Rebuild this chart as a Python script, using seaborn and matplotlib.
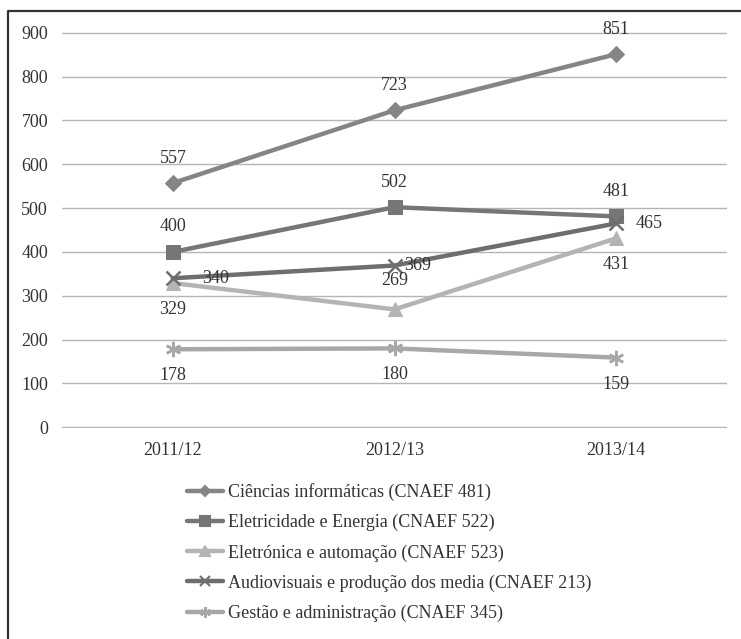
import matplotlib
matplotlib.use("Agg")
import matplotlib.pyplot as plt
from matplotlib.lines import Line2D
import pandas as pd
import seaborn as sns

# Academic years on the x axis
years = ["2011/12", "2012/13", "2013/14"]

# Enrolments per study area (CNAEF)
ciencias_informaticas = [557, 723, 851]
eletricidade_energia = [400, 502, 481]
eletronica_automacao = [329, 269, 431]
audiovisuais_media = [340, 369, 465]
gestao_administracao = [178, 180, 159]

series_names = [
    "Ciências informáticas (CNAEF 481)",
    "Eletricidade e Energia (CNAEF 522)",
    "Eletrónica e automação (CNAEF 523)",
    "Audiovisuais e produção dos media (CNAEF 213)",
    "Gestão e administração (CNAEF 345)",
]
series_values = [
    ciencias_informaticas,
    eletricidade_energia,
    eletronica_automacao,
    audiovisuais_media,
    gestao_administracao,
]

y_ticks = [0, 100, 200, 300, 400, 500, 600, 700, 800, 900]

# styling per series: colour, marker, marker size, label placement (dx, dy in points)
styles = [
    dict(color="#858585", marker="D", ms=8, filled=True,
         offsets=[(0, 18), (0, 18), (0, 18)]),
    dict(color="#767676", marker="s", ms=10, filled=True,
         offsets=[(0, 18), (0, 18), (0, 18)]),
    dict(color="#b4b4b4", marker="^", ms=10, filled=True,
         offsets=[(0, -19), (0, 21), (0, -19)]),
    dict(color="#6e6e6e", marker="x", ms=10, filled=False,
         offsets=[(31, 0), (17, 0), (24, 0)]),
    dict(color="#a8a8a8", marker=(6, 2, 0), ms=11, filled=False,
         offsets=[(0, -19), (0, -19), (0, -19)]),
]

FS = 13

sns.set_theme(style="white")
plt.rcParams["font.family"] = ["Liberation Serif", "DejaVu Serif"]
plt.rcParams["text.color"] = "#333333"

fig = plt.figure(figsize=(7.41, 6.39), dpi=100)
ax = fig.add_axes([62 / 741, 1 - 428 / 639, 665 / 741, 396 / 639])

df = pd.DataFrame(
    [(name, yr, v) for name, vals in zip(series_names, series_values)
     for yr, v in zip(years, vals)],
    columns=["area", "ano", "valor"],
)

handles = []
for name, st in zip(series_names, styles):
    sub = df[df["area"] == name]
    mkw = dict(marker=st["marker"], markersize=st["ms"])
    if st["filled"]:
        mkw.update(markerfacecolor=st["color"], markeredgecolor=st["color"])
    else:
        mkw.update(markeredgecolor=st["color"], markeredgewidth=1.8)
    sns.lineplot(data=sub, x="ano", y="valor", ax=ax, color=st["color"],
                 linewidth=3.2, sort=False, legend=False, **mkw)
    for i, (yr, v) in enumerate(zip(sub["ano"], sub["valor"])):
        dx, dy = st["offsets"][i]
        ax.annotate(str(v), xy=(i, v), xytext=(dx, dy), textcoords="offset points",
                    ha="center", va="center", fontsize=FS, color="#333333")
    handles.append(Line2D([], [], color=st["color"], linewidth=3.2,
                          marker=st["marker"], markersize=st["ms"] * 0.7,
                          markeredgewidth=1.5,
                          markerfacecolor=st["color"], markeredgecolor=st["color"]))

ax.set_xlim(-0.5, 2.5)
ax.set_ylim(-1.5, 901.5)
ax.set_yticks(y_ticks)
ax.set_yticklabels([str(t) for t in y_ticks])
ax.grid(axis="y", color="#b5b5b5", linewidth=1.0)
ax.grid(axis="x", visible=False)
ax.set_axisbelow(True)
for sp in ax.spines.values():
    sp.set_visible(False)
ax.tick_params(axis="y", length=0, pad=10, labelsize=FS, labelcolor="#333333")
ax.tick_params(axis="x", length=0, pad=10, labelsize=FS, labelcolor="#333333")
ax.set_xlabel("")
ax.set_ylabel("")

fig.legend(handles, series_names, loc="upper left",
           bbox_to_anchor=(187 / 741, 1 - 483 / 639), frameon=False,
           fontsize=FS, handlelength=2.0, handletextpad=0.25,
           labelspacing=0.72, borderpad=0, borderaxespad=0)

# outer frame open on the right and bottom
fig.add_artist(Line2D([8 / 741, 8 / 741, 1.0], [0.0, 1 - 11 / 639, 1 - 11 / 639],
                      transform=fig.transFigure, color="#333333", linewidth=1.6))

fig.savefig("out.png", dpi=100)
